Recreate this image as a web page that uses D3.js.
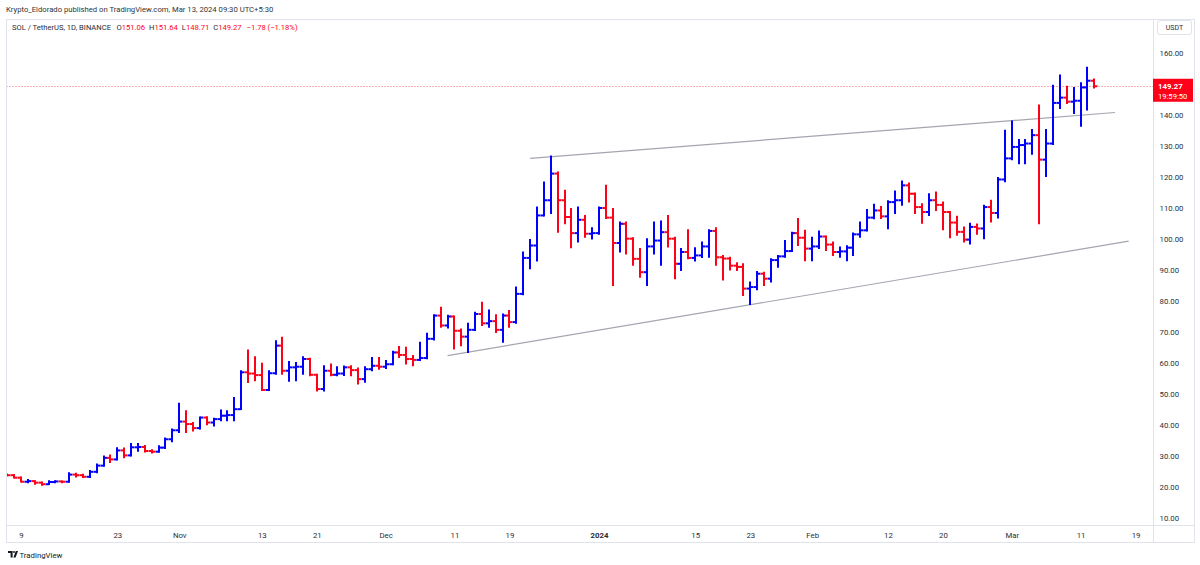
<!DOCTYPE html>
<html>
<head>
<meta charset="utf-8">
<script src="https://cdn.jsdelivr.net/npm/d3@7"></script>
<style>
  body { margin: 0; background: #fff; }
  svg { display: block; font-family: Roboto, "Open Sans", sans-serif; }
</style>
</head>
<body>
<svg id="chart"></svg>
<script>
// SOL / USDT daily bars, first bar is 2023-10-07
const startDate = "2023-10-07"

const opens = [
  // Oct
  24.0,23.8,23.0,21.7,21.9,21.4,20.9,21.6,21.8,21.7,24.0,23.8,23.3,24.9,26.9,29.4,28.9,31.8,30.2,32.8,32.9,31.6,31.4,32.7,35.4,
  // Nov
  38.3,41.1,40.3,39.0,42.4,40.8,41.9,43.0,43.2,45.1,57.0,56.6,56.1,51.3,56.7,65.6,57.5,58.6,58.8,61.3,56.2,51.6,57.5,56.2,56.6,58.6,57.7,54.8,58.0,59.1,
  // Dec
  58.8,59.6,63.4,62.6,61.3,61.0,61.6,67.8,75.3,72.1,75.0,70.4,68.5,70.7,75.8,72.8,73.5,70.7,75.3,73.2,82.3,93.9,97.9,107.6,112.5,121.1,112.5,107.1,101.9,106.2,101.7,
  // Jan
  101.9,110.0,106.9,98.7,104.9,100.1,93.6,89.3,97.6,99.5,102.2,100.1,92.0,95.8,93.9,94.7,97.6,102.6,94.1,93.7,91.4,91.0,84.0,84.5,88.8,87.2,93.2,94.4,96.1,101.9,100.4,
  // Feb
  96.9,97.6,100.8,98.2,95.8,96.0,97.2,101.5,102.8,106.9,109.2,107.3,111.9,112.5,117.3,114.6,110.3,108.7,112.5,111.0,108.7,105.3,102.3,99.8,103.9,103.4,110.3,108.4,119.2,
  // Mar
  126.0,129.7,130.3,130.8,133.5,125.6,130.8,143.9,145.6,144.3,144.6,148.9,151.06
]
const highs = [
  24.2,24.0,23.2,22.4,22.0,21.6,22.0,22.0,21.9,24.6,24.4,24.1,25.3,27.4,30.0,30.3,32.7,32.6,34.0,34.0,33.4,32.0,33.3,35.8,38.7,
  47.0,44.6,40.8,42.6,42.7,42.2,44.8,44.6,48.9,57.5,64.2,62.0,59.9,57.5,67.2,68.3,60.5,60.2,62.0,61.5,56.4,59.1,59.7,58.8,59.0,59.1,58.4,58.8,61.8,61.8,
  60.8,63.8,65.3,65.1,62.4,66.7,69.6,75.6,78.0,75.4,75.2,71.0,72.8,76.4,79.6,77.1,75.6,75.8,76.9,84.5,95.8,99.8,110.3,118.4,126.8,121.6,115.7,109.8,110.3,107.6,103.6,
  110.3,117.3,109.8,105.5,105.5,100.4,96.9,100.1,105.5,105.8,107.6,100.6,96.9,103.0,97.2,99.0,103.0,103.6,94.7,94.1,92.3,92.0,86.1,89.5,89.3,93.6,94.7,99.5,102.2,106.6,102.8,
  100.6,102.6,101.0,99.0,97.4,97.8,101.9,105.5,109.5,111.2,110.5,112.3,115.5,118.7,118.1,114.8,111.4,114.6,115.2,111.9,108.9,107.3,103.9,105.1,104.8,110.9,112.5,119.8,135.1,
  138.1,132.1,132.1,135.3,143.2,135.3,149.6,152.9,149.3,148.9,150.4,155.4,151.64
]
const lows = [
  23.6,22.9,21.6,21.4,20.9,20.6,20.8,21.4,21.4,21.5,23.2,23.1,23.1,24.6,26.7,27.9,28.7,29.4,30.0,31.5,31.3,31.0,31.2,32.4,34.6,
  37.6,37.6,38.1,38.7,40.1,39.7,41.4,41.4,41.4,45.0,53.7,54.3,51.1,51.1,56.4,56.4,54.1,54.3,56.4,55.9,51.0,51.0,55.9,55.9,56.0,55.9,53.2,53.8,57.5,58.0,
  58.2,59.4,61.8,59.7,59.1,60.8,61.4,67.4,71.5,71.3,64.5,65.6,63.4,70.5,72.1,71.5,69.8,66.7,71.5,72.8,82.0,90.4,92.9,107.4,108.2,102.2,104.9,97.2,99.0,100.6,100.0,
  101.5,106.6,85.0,95.8,95.2,91.5,87.7,85.0,95.2,91.5,97.4,87.2,89.8,93.6,92.9,94.0,94.1,91.5,86.8,90.0,89.8,81.8,78.9,83.6,85.0,86.1,90.9,94.1,96.0,97.9,93.0,
  93.0,96.9,96.3,94.7,94.1,93.0,94.7,100.6,102.6,106.5,106.6,103.3,108.2,110.9,111.9,108.2,105.1,107.6,109.2,103.0,100.4,101.2,99.0,98.4,101.5,100.1,105.5,106.8,118.5,
  125.6,124.3,124.3,127.3,104.9,120.2,130.5,142.1,143.7,140.5,136.4,141.6,148.71
]
const closes = [
  23.8,23.0,21.7,21.9,21.4,20.9,21.6,21.8,21.7,24.0,23.8,23.3,24.9,26.9,29.4,28.9,31.8,30.2,32.8,32.9,31.6,31.4,32.7,35.4,38.3,
  41.1,40.3,39.0,42.4,40.8,41.9,43.0,43.2,45.1,57.0,56.6,56.1,51.3,56.7,65.6,57.5,58.6,58.8,61.3,56.2,51.6,57.5,56.2,56.6,58.6,57.7,54.8,58.0,59.1,58.8,
  59.6,63.4,62.6,61.3,61.0,61.6,67.8,75.3,72.1,75.0,70.4,68.5,70.7,75.8,72.8,73.5,70.7,75.3,73.2,82.3,93.9,97.9,107.6,112.5,121.1,112.5,107.1,101.9,106.2,101.7,101.9,
  110.0,106.9,98.7,104.9,100.1,93.6,89.3,97.6,99.5,102.2,100.1,92.0,95.8,93.9,94.7,97.6,102.6,94.1,93.7,91.4,91.0,84.0,84.5,88.8,87.2,93.2,94.4,96.1,101.9,100.4,96.9,
  97.6,100.8,98.2,95.8,96.0,97.2,101.5,102.8,106.9,109.2,107.3,111.9,112.5,117.3,114.6,110.3,108.7,112.5,111.0,108.7,105.3,102.3,99.8,103.9,103.4,110.3,108.4,119.2,126.0,
  129.7,130.3,130.8,133.5,125.6,130.8,143.9,145.6,144.3,144.6,148.9,151.06,149.27
]

// drawn trend lines [date, price]
const upperLine = [["2023-12-22", 126.0], ["2024-03-16", 140.8]]
const lowerLine = [["2023-12-10", 62.4], ["2024-03-18", 99.3]]

const priceTicks = [160,140,130,120,110,100,90,80,70,60,50,40,30,20,10]
const timeTickDates = ["2023-10-09","2023-10-23","2023-11-01","2023-11-13","2023-11-21","2023-12-01","2023-12-11","2023-12-19",
                       "2024-01-01","2024-01-15","2024-01-23","2024-02-01","2024-02-12","2024-02-20","2024-03-01","2024-03-11","2024-03-19"]
const timeTickLabels = ["9","23","Nov","13","21","Dec","11","19","2024","15","23","Feb","12","20","Mar","11","19"]

const lastPrice = 149.27
const change = -1.78, changePct = -1.18
const countdown = "19:59:50"

const width = 1200, height = 565
const pane = {left: 6.5, top: 19.5, right: 1153.5, bottom: 525.5}
const axisBottom = 542.5, frameRight = 1194.5

const up = "#0000ff", down = "#ff0019", frame = "#e0e3eb", textCol = "#2a2e39"

const parse = d3.utcParse("%Y-%m-%d")
const bars = closes.map((c, i) => ({
  date: d3.utcDay.offset(parse(startDate), i),
  o: opens[i], h: highs[i], l: lows[i], c: c
}))

const x = d3.scaleUtc()
            .domain([parse("2023-10-09"), parse("2024-03-19")])
            .range([21, 21 + 162 * 6.88])
const y = d3.scaleLinear()
            .domain([10, 160])
            .range([518, 53])

const svg = d3.select("#chart")
              .attr("width", width)
              .attr("height", height)

svg.append("rect").attr("width", width).attr("height", height).attr("fill", "#fff")

// header
svg.append("text")
   .attr("x", 6).attr("y", 12)
   .attr("font-size", 7.7)
   .attr("fill", "#333")
   .text("Krypto_Eldorado published on TradingView.com, Mar 13, 2024 09:30 UTC+5:30")

// frame
svg.append("rect")
   .attr("x", pane.left).attr("y", pane.top)
   .attr("width", frameRight - pane.left).attr("height", axisBottom - pane.top)
   .attr("fill", "none").attr("stroke", frame)
svg.append("line")
   .attr("x1", pane.right).attr("x2", pane.right)
   .attr("y1", pane.top).attr("y2", axisBottom)
   .attr("stroke", frame)
svg.append("line")
   .attr("x1", pane.left).attr("x2", frameRight)
   .attr("y1", pane.bottom).attr("y2", pane.bottom)
   .attr("stroke", frame)

svg.append("clipPath").attr("id", "clip")
   .append("rect")
   .attr("x", pane.left + 0.5).attr("y", pane.top + 0.5)
   .attr("width", pane.right - pane.left - 1).attr("height", pane.bottom - pane.top - 1)

const body = svg.append("g").attr("clip-path", "url(#clip)")

// last price dotted line
body.append("line")
    .attr("x1", pane.left).attr("x2", pane.right)
    .attr("y1", Math.round(y(lastPrice)) + 0.5).attr("y2", Math.round(y(lastPrice)) + 0.5)
    .attr("stroke", "#f5606e")
    .attr("stroke-dasharray", "1,2")

// trend lines
for (const ln of [upperLine, lowerLine]) {
  body.append("line")
      .attr("x1", x(parse(ln[0][0]))).attr("y1", y(ln[0][1]))
      .attr("x2", x(parse(ln[1][0]))).attr("y2", y(ln[1][1]))
      .attr("stroke", "#a3a6ae")
      .attr("stroke-width", 1.2)
}

// OHLC bars
const tick = 3.4
const barG = body.selectAll("g.bar")
                 .data(bars)
                 .join("g")
                 .attr("class", "bar")
                 .attr("stroke", d => d.c >= d.o ? up : down)
                 .attr("stroke-width", 2)
barG.append("line")
    .attr("x1", d => Math.round(x(d.date))).attr("x2", d => Math.round(x(d.date)))
    .attr("y1", d => y(d.h) - 0.5).attr("y2", d => y(d.l) + 0.5)
barG.append("line")
    .attr("x1", d => Math.round(x(d.date)) - tick).attr("x2", d => Math.round(x(d.date)))
    .attr("y1", d => y(d.o)).attr("y2", d => y(d.o))
barG.append("line")
    .attr("x1", d => Math.round(x(d.date))).attr("x2", d => Math.round(x(d.date)) + tick)
    .attr("y1", d => y(d.c)).attr("y2", d => y(d.c))

// legend line, laid out left to right
const last = bars[bars.length - 1]
const fmt = d3.format(".2f")
const legend = svg.append("g").attr("transform", "translate(0,29.5)").attr("font-size", 7.6)
const title = legend.append("text").attr("x", 12).attr("fill", textCol)
                    .text("SOL / TetherUS, 1D, BINANCE")
let cx = 12 + title.node().getComputedTextLength() + 5.5
const parts = [["O", last.o], ["H", last.h], ["L", last.l], ["C", last.c]]
parts.forEach(p => {
  const t = legend.append("text").attr("x", cx).attr("fill", textCol)
  t.append("tspan").text(p[0])
  t.append("tspan").attr("fill", down).text(fmt(p[1]))
  cx += t.node().getComputedTextLength() + 4
})
legend.append("text").attr("x", cx + 1).attr("fill", down)
      .text(`\u2212${fmt(Math.abs(change))} (\u2212${fmt(Math.abs(changePct))}%)`)

// price axis
const yAxis = svg.append("g").attr("font-size", 7.8).attr("fill", textCol)
yAxis.selectAll("text")
     .data(priceTicks)
     .join("text")
     .attr("x", 1159.5)
     .attr("y", d => y(d))
     .attr("dy", "0.35em")
     .text(d => fmt(d))

// USDT box
svg.append("rect")
   .attr("x", 1157.5).attr("y", 20.5).attr("width", 34).attr("height", 14).attr("rx", 2.5)
   .attr("fill", "#fff").attr("stroke", frame)
svg.append("text")
   .attr("x", 1174.5).attr("y", 30.3).attr("text-anchor", "middle")
   .attr("font-size", 7).attr("fill", textCol).text("USDT")

// last price label
const ly = y(lastPrice)
svg.append("rect")
   .attr("x", 1153).attr("y", ly - 7.5).attr("width", 40).attr("height", 23)
   .attr("fill", down)
svg.append("text")
   .attr("x", 1158).attr("y", ly).attr("dy", "0.35em")
   .attr("font-size", 7.8).attr("font-weight", "bold").attr("fill", "#fff")
   .text(fmt(lastPrice))
svg.append("text")
   .attr("x", 1158).attr("y", ly + 10).attr("dy", "0.35em")
   .attr("font-size", 7.6).attr("fill", "#fff")
   .text(countdown)

// time axis
const xAxis = svg.append("g")
                 .attr("transform", `translate(0,${pane.bottom})`)
                 .call(d3.axisBottom(x)
                         .tickValues(timeTickDates.map(parse))
                         .tickSize(0)
                         .tickPadding(6.5)
                         .tickFormat((d, i) => timeTickLabels[i]))
xAxis.select(".domain").remove()
xAxis.selectAll("text")
     .attr("font-family", "Roboto, 'Open Sans', sans-serif")
     .attr("font-size", 7.8)
     .attr("fill", textCol)
     .attr("font-weight", (d, i) => timeTickLabels[i] === "2024" ? "bold" : null)

// TradingView mark
const logo = svg.append("g").attr("transform", "translate(8,551)").attr("fill", "#131722")
logo.append("path").attr("d", "M0 0 H4.6 V6.4 H2.6 V1.9 H0 Z")
logo.append("circle").attr("cx", 6).attr("cy", 1).attr("r", 0.95)
logo.append("path").attr("d", "M7.8 0 H10 L7.6 6.4 H5.4 Z")
svg.append("text")
   .attr("x", 19.5).attr("y", 557.5)
   .attr("font-size", 7.8).attr("fill", "#131722")
   .text("TradingView")
</script>
</body>
</html>
